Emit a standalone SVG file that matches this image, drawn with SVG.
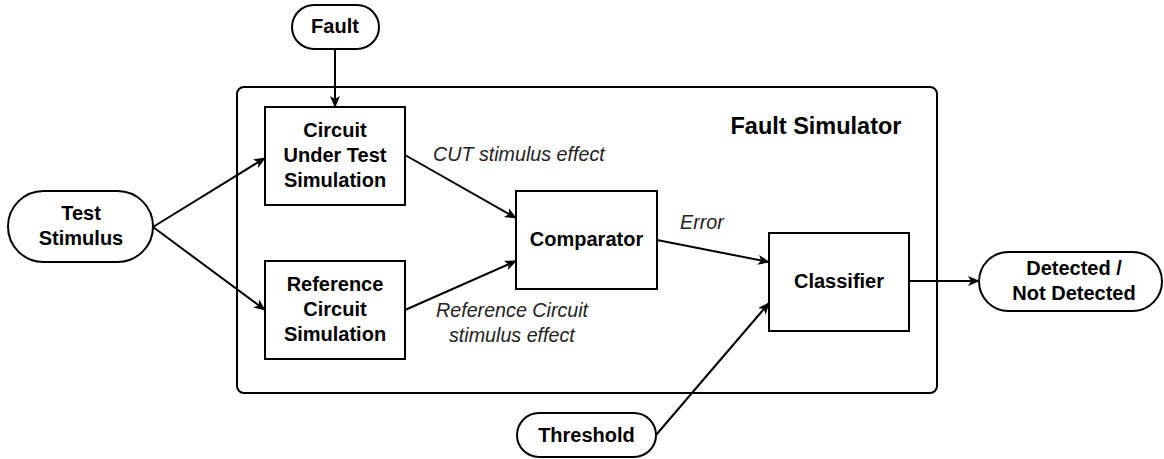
<svg xmlns="http://www.w3.org/2000/svg" width="1164" height="459" viewBox="0 0 1164 459">
<style>
.box{fill:#fff;stroke:#000;stroke-width:2}
.t{font-family:"Liberation Sans",Arial,sans-serif;font-size:20px;font-weight:bold;fill:#000;text-anchor:middle}
.title{font-size:23.5px}
.lab{font-family:"Liberation Sans",Arial,sans-serif;font-size:19.7px;font-style:italic;fill:#222}
.c{fill:none;stroke:#000;stroke-width:2}
</style>
<defs>
<marker id="ah" viewBox="0 0 12 10" refX="11" refY="5" markerWidth="12" markerHeight="10" markerUnits="userSpaceOnUse" orient="auto">
<path d="M0,0 L12,5 L0,10 L3,5 z" fill="#000"/>
</marker>
</defs>
<rect width="1164" height="459" fill="#fff"/>
<g id="fault-simulator">
<rect class="box" x="237" y="87" width="700" height="306" rx="7"/>
<text class="t title" x="816" y="134">Fault Simulator</text>
</g>
<g id="fault">
<rect class="box" x="292" y="5" width="87" height="44" rx="22"/>
<text class="t" x="335" y="33">Fault</text>
</g>
<g id="test-stimulus">
<rect class="box" x="8" y="191" width="145" height="71" rx="35.5"/>
<text class="t" x="81" y="220">Test</text>
<text class="t" x="81" y="245">Stimulus</text>
</g>
<g id="cut-sim">
<rect class="box" x="265" y="107" width="140" height="98"/>
<text class="t" x="335" y="137">Circuit</text>
<text class="t" x="335" y="162">Under Test</text>
<text class="t" x="335" y="187">Simulation</text>
</g>
<g id="ref-sim">
<rect class="box" x="265" y="261" width="140" height="98"/>
<text class="t" x="335" y="291">Reference</text>
<text class="t" x="335" y="316">Circuit</text>
<text class="t" x="335" y="341">Simulation</text>
</g>
<g id="comparator">
<rect class="box" x="516" y="191" width="141" height="98"/>
<text class="t" x="586.5" y="246">Comparator</text>
</g>
<g id="classifier">
<rect class="box" x="769" y="233" width="140" height="98"/>
<text class="t" x="839" y="288">Classifier</text>
</g>
<g id="detected">
<rect class="box" x="979" y="252" width="183" height="59" rx="29.5"/>
<text class="t" x="1074" y="275">Detected /</text>
<text class="t" x="1074" y="300">Not Detected</text>
</g>
<g id="threshold">
<rect class="box" x="517" y="413" width="139" height="44" rx="22"/>
<text class="t" x="586.5" y="442">Threshold</text>
</g>
<g id="connectors">
<line class="c" x1="335" y1="49" x2="335" y2="107" marker-end="url(#ah)"/>
<line class="c" x1="153" y1="227" x2="265" y2="158" marker-end="url(#ah)"/>
<line class="c" x1="153" y1="227" x2="265" y2="310" marker-end="url(#ah)"/>
<line class="c" x1="405" y1="155" x2="516" y2="218" marker-end="url(#ah)"/>
<line class="c" x1="405" y1="310" x2="516" y2="261" marker-end="url(#ah)"/>
<line class="c" x1="657" y1="240" x2="769" y2="262" marker-end="url(#ah)"/>
<line class="c" x1="656" y1="435" x2="769" y2="303" marker-end="url(#ah)"/>
<line class="c" x1="909" y1="281" x2="979" y2="281" marker-end="url(#ah)"/>
<text class="lab" x="433" y="161">CUT stimulus effect</text>
<text class="lab" x="680" y="229">Error</text>
<text class="lab" x="436" y="317">Reference Circuit</text>
<text class="lab" x="449" y="342">stimulus effect</text>
</g>
</svg>
